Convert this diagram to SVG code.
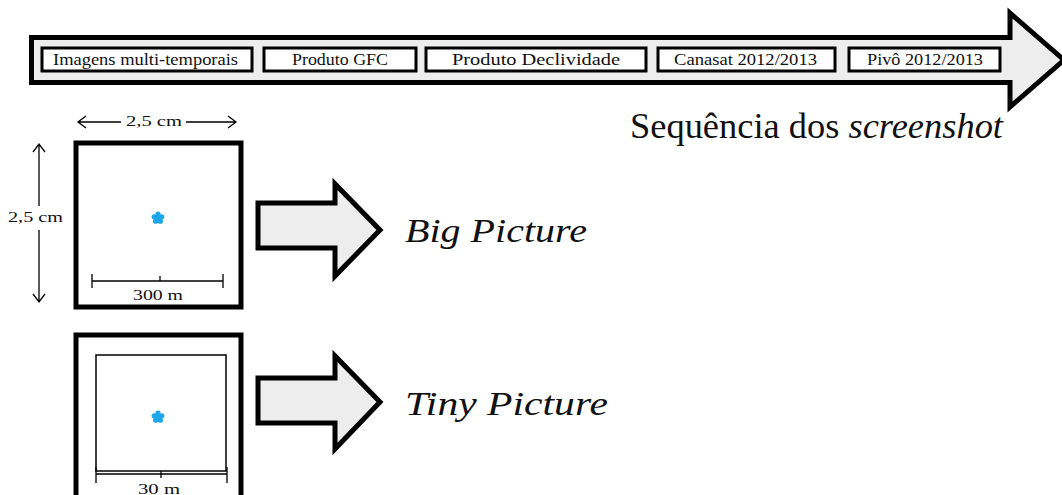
<svg xmlns="http://www.w3.org/2000/svg" width="1062" height="495" viewBox="0 0 1062 495">
<style>
text{font-family:"Liberation Serif","Times New Roman",Tinos,"DejaVu Serif",serif;fill:#111}
.blk{fill:#ededed;stroke:#000;stroke-width:5;stroke-linejoin:miter}
.step{fill:#fff;stroke:#000;stroke-width:3}
.stxt{font-size:16px;text-anchor:middle}
.dim{stroke:#000;stroke-width:1.3;fill:none}
.dtxt{font-size:14px;text-anchor:middle}
.frame{fill:#fff;stroke:#000;stroke-width:5}
.big{font-style:italic;font-size:34px}
.star{fill:#1ea6ea}
</style>
<defs>
<g id="star">
<circle cx="0" cy="-4" r="2.6" class="star"/>
<circle cx="3.8" cy="-1.2" r="2.6" class="star"/>
<circle cx="2.35" cy="3.2" r="2.6" class="star"/>
<circle cx="-2.35" cy="3.2" r="2.6" class="star"/>
<circle cx="-3.8" cy="-1.2" r="2.6" class="star"/>
<circle cx="0" cy="0" r="3" class="star"/>
</g>
</defs>

<g id="sequence-arrow">
<polygon class="blk" points="31.5,37.5 1010,37.5 1010,13 1064,60 1010,107 1010,82.5 31.5,82.5"/>
</g>
<g id="step-imagens"><rect class="step" x="42" y="48" width="210" height="23"/><text class="stxt" x="145.5" y="65" textLength="185" lengthAdjust="spacingAndGlyphs">Imagens multi-temporais</text></g>
<g id="step-gfc"><rect class="step" x="264" y="48" width="152" height="23"/><text class="stxt" x="340" y="65" textLength="96" lengthAdjust="spacingAndGlyphs">Produto GFC</text></g>
<g id="step-declividade"><rect class="step" x="426" y="48" width="220" height="23"/><text class="stxt" x="536" y="65" textLength="168" lengthAdjust="spacingAndGlyphs">Produto Declividade</text></g>
<g id="step-canasat"><rect class="step" x="658" y="48" width="177" height="23"/><text class="stxt" x="745.5" y="65" textLength="143" lengthAdjust="spacingAndGlyphs">Canasat 2012/2013</text></g>
<g id="step-pivo"><rect class="step" x="849" y="48" width="151" height="23"/><text class="stxt" x="925" y="65" textLength="116" lengthAdjust="spacingAndGlyphs">Pivô 2012/2013</text></g>
<g id="sequence-label"><text x="630" y="138" font-size="35" textLength="373" lengthAdjust="spacingAndGlyphs">Sequência  dos <tspan font-style="italic">screenshot</tspan></text></g>

<g id="big-box">
<rect class="frame" x="76" y="143" width="165" height="164"/>
<use href="#star" x="158" y="218"/>
<path class="dim" d="M92,281 H223 M92,274 V288 M223,274 V288 M160,276 V281"/>
<text class="dtxt" x="158" y="300" textLength="50" lengthAdjust="spacingAndGlyphs">300 m</text>
</g>

<g id="tiny-box">
<rect class="frame" x="76" y="335" width="165" height="170"/>
<rect x="96" y="355" width="130" height="116" fill="none" stroke="#000" stroke-width="1.5"/>
<path class="dim" d="M96,474 H227 M96,467 V483 M227,467 V483 M161,471 V478"/>
<use href="#star" x="158" y="417"/>
<text class="dtxt" x="159" y="494" textLength="42" lengthAdjust="spacingAndGlyphs">30 m</text>
</g>

<g id="dimensions">
<path class="dim" d="M78,122 H121 M186,122 H236 M86,116 L78,122 L86,128 M228,116 L236,122 L228,128"/>
<text class="dtxt" x="154" y="126" textLength="56" lengthAdjust="spacingAndGlyphs">2,5 cm</text>
<path class="dim" d="M39,144 V206 M39,230 V302 M33,152 L39,144 L45,152 M33,294 L39,302 L45,294"/>
<text class="dtxt" x="35.5" y="222" textLength="55" lengthAdjust="spacingAndGlyphs">2,5 cm</text>
</g>

<g id="connectors">
<polygon class="blk" stroke-width="4" points="258,203 335,203 335,184 380,230 335,276 335,248 258,248"/>
<polygon class="blk" stroke-width="4" points="258,378 335,378 335,356 380,402 335,449 335,423 258,423"/>
</g>

<g id="big-picture-label"><text class="big" x="405" y="242" textLength="182" lengthAdjust="spacingAndGlyphs">Big Picture</text></g>
<g id="tiny-picture-label"><text class="big" x="405" y="415" textLength="203" lengthAdjust="spacingAndGlyphs">Tiny Picture</text></g>
</svg>
